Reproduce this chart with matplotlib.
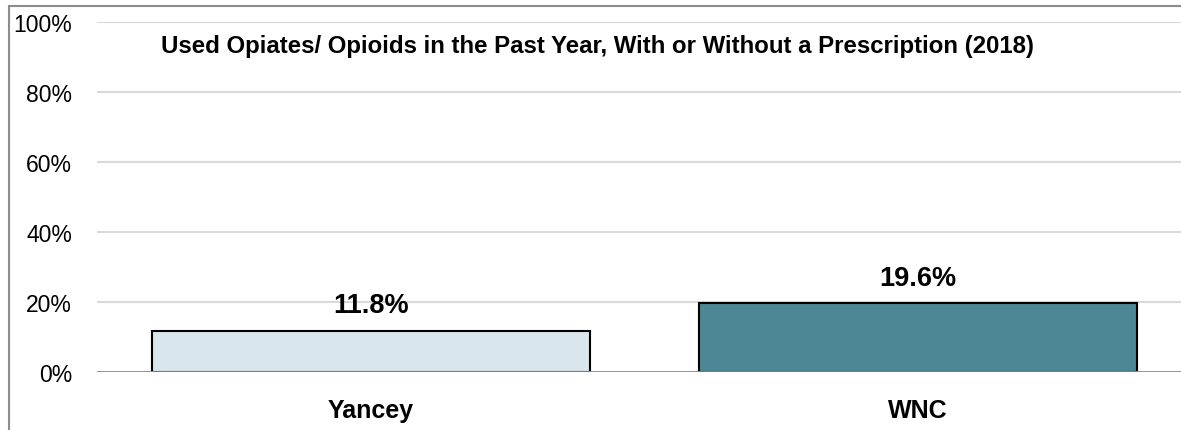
import matplotlib.pyplot as plt
from matplotlib.patches import Rectangle

categories = ["Yancey", "WNC"]
values = [11.8, 19.6]
colors = ["#d9e6ec", "#4d8796"]
yticks = [0, 20, 40, 60, 80, 100]
title = "Used Opiates/ Opioids in the Past Year, With or Without a Prescription (2018)"

plt.rcParams['font.family'] = ['Liberation Sans', 'DejaVu Sans']

W, H = 1181, 431
fig = plt.figure(figsize=(W / 100, H / 100), dpi=100)
ax = fig.add_axes([97 / W, 1 - 373 / H, 1095 / W, 350 / H])

x = list(range(len(categories)))
ax.bar(x, values, width=0.8, color=colors, edgecolor='black', linewidth=1.5, zorder=3)

for xi, v in zip(x, values):
    ax.text(xi, v + 5.2, f"{v:.1f}%", ha='center', va='baseline',
            fontsize=19.5, fontweight='bold', zorder=4)

ax.set_xlim(-0.5, 1.5)
ax.set_ylim(0, 100)
ax.set_yticks(yticks)
ax.set_yticklabels([f"{t}%" for t in yticks], fontsize=16.5)
ax.set_xticks(x)
ax.set_xticklabels(categories, fontsize=18, fontweight='bold')
ax.tick_params(axis='y', length=0, pad=18)
ax.tick_params(axis='x', length=0, pad=19)

for t in yticks[1:]:
    ax.axhline(t, color='#d9d9d9', linewidth=1.5, zorder=1)
ax.axhline(0, color='#8c8c8c', linewidth=2, zorder=4)

for s in ax.spines.values():
    s.set_visible(False)

ax.text(0.4575, 0.914, title, transform=ax.transAxes, ha='center', va='baseline',
        fontsize=17.3, fontweight='bold')

fig.patches.append(Rectangle((9 / W, -0.1), 1.2, 1 - 7 / H + 0.1, transform=fig.transFigure,
                             fill=False, edgecolor='#8c8c8c', linewidth=1.5))

fig.savefig("out.png", dpi=100)
